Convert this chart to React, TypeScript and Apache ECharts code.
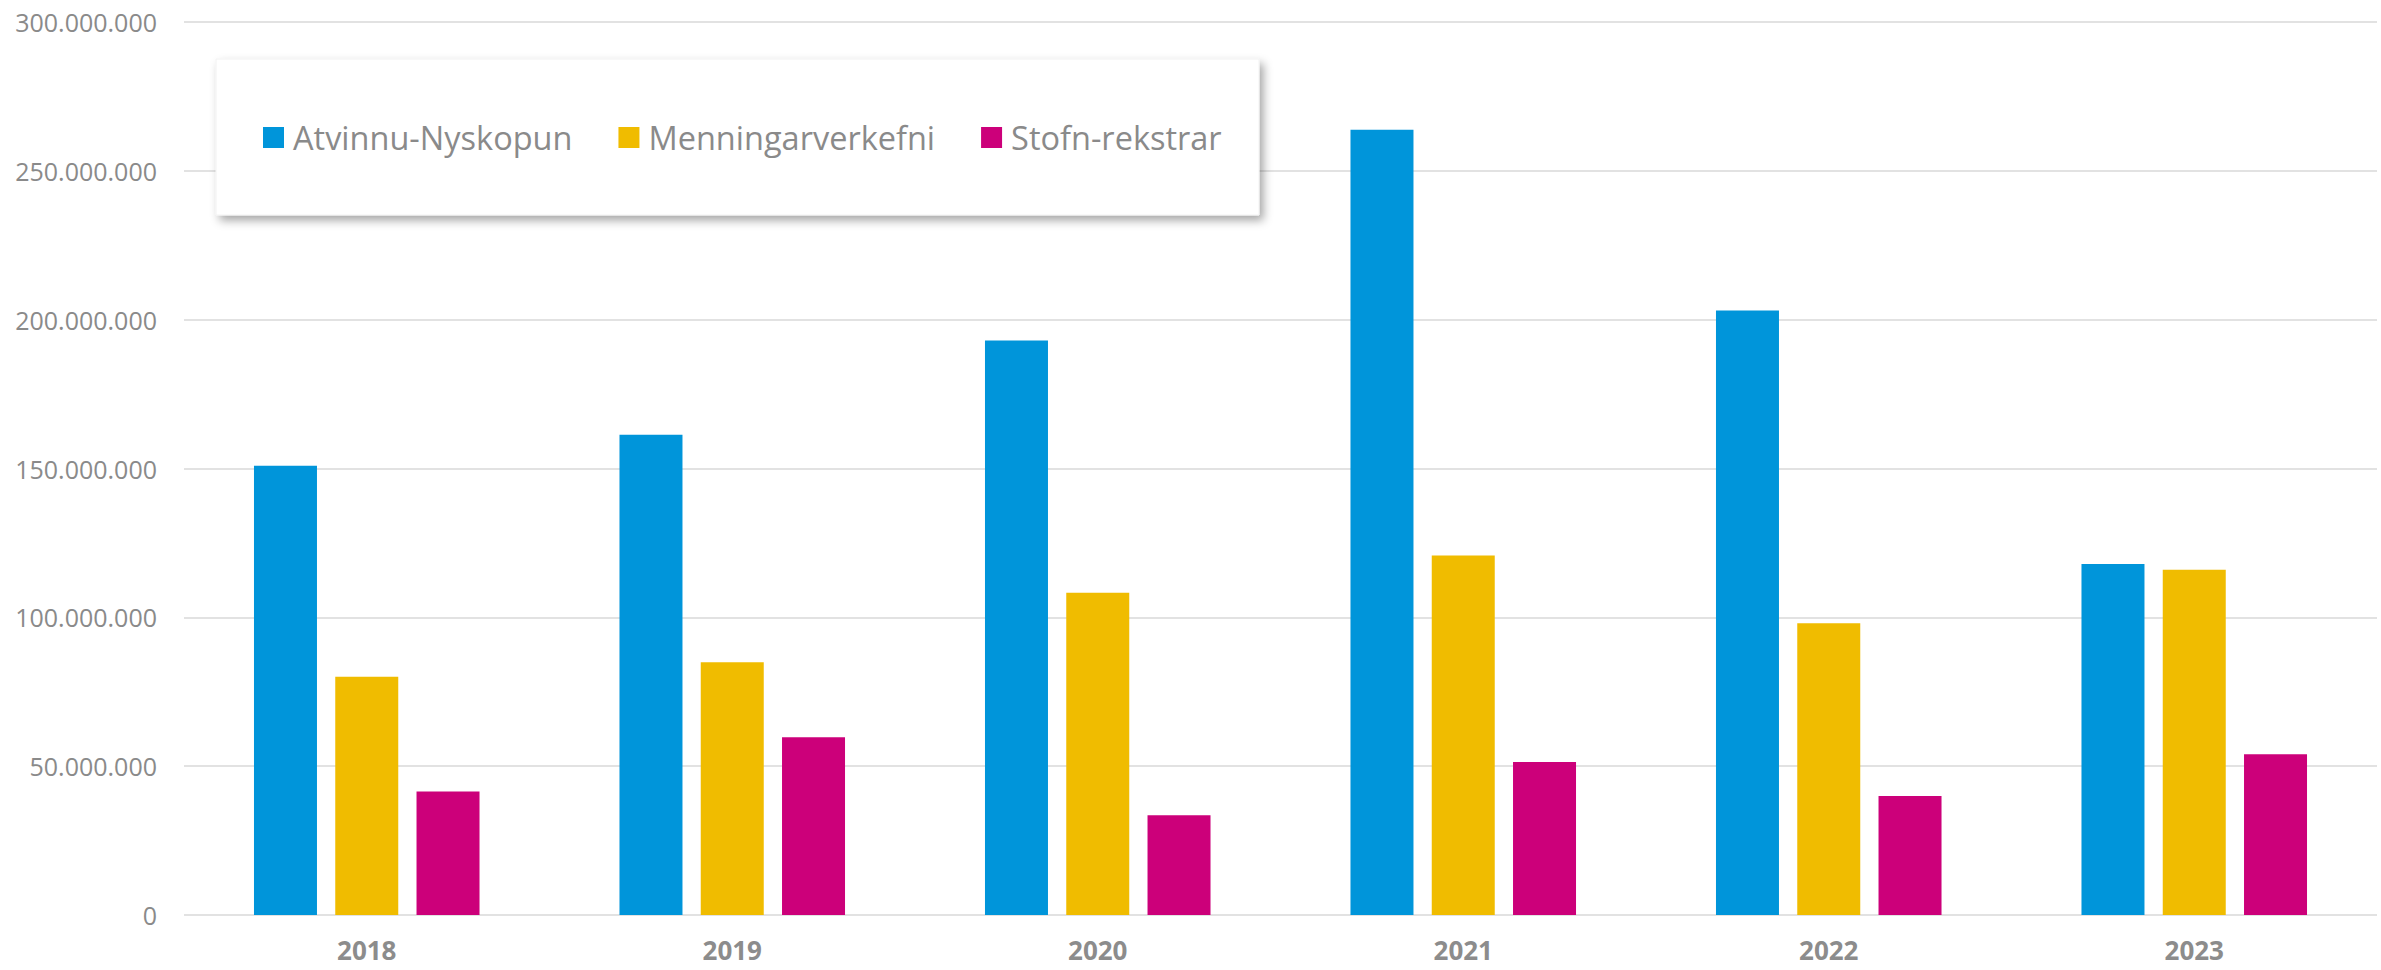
import React, { useEffect, useRef } from "react";
import * as echarts from "echarts";

const categories = ["2018", "2019", "2020", "2021", "2022", "2023"];
const seriesNames = ["Atvinnu-Nyskopun", "Menningarverkefni", "Stofn-rekstrar"];
const atvinnu = [150900000, 161300000, 193000000, 263800000, 203100000, 117900000];
const menning = [80000000, 84900000, 108300000, 120800000, 98000000, 116000000];
const stofn = [41500000, 59700000, 33500000, 51400000, 40000000, 54000000];
const colors = ["#0095DA", "#F0BC00", "#CC007A"];

const fmt = (v: number) => String(Math.round(v)).replace(/\B(?=(\d{3})+(?!\d))/g, ".");

export default function App() {
  const ref = useRef<HTMLDivElement>(null);
  useEffect(() => {
    if (!ref.current) return;
    const chart = echarts.init(ref.current, undefined, { renderer: "svg" });
    const font = "'Open Sans', 'Noto Sans', sans-serif";
    const values = [atvinnu, menning, stofn];
    chart.setOption({
      animation: false,
      backgroundColor: "#fff",
      grid: { left: 184, right: 4, top: 22, bottom: 55, containLabel: false },
      xAxis: {
        type: "category",
        data: categories,
        axisLine: { show: false },
        axisTick: { show: false },
        axisLabel: {
          margin: 25,
          color: "#8c8c8c",
          fontFamily: font,
          fontWeight: "bold",
          fontSize: 26,
          lineHeight: 20,
        },
      },
      yAxis: {
        type: "value",
        min: 0,
        max: 300000000,
        interval: 50000000,
        axisLine: { show: false },
        axisTick: { show: false },
        splitLine: { lineStyle: { color: "#e2e2e2", width: 2 } },
        axisLabel: {
          margin: 27,
          color: "#8a8a8a",
          fontFamily: font,
          fontSize: 25,
          formatter: (v: number) => fmt(v),
        },
      },
      graphic: [
        {
          type: "rect",
          z: 10,
          shape: { x: 216, y: 59, width: 1043, height: 156 },
          style: {
            fill: "#ffffff",
            stroke: "#f2f2f2",
            lineWidth: 1,
            shadowBlur: 10,
            shadowOffsetX: 4,
            shadowOffsetY: 5,
            shadowColor: "rgba(0,0,0,0.35)",
          },
        },
      ],
      legend: {
        z: 20,
        left: 263,
        top: 121,
        padding: 0,
        itemGap: 46,
        itemWidth: 21,
        itemHeight: 21,
        icon: "rect",
        data: seriesNames,
        textStyle: {
          color: "#8a8a8a",
          fontFamily: font,
          fontSize: 32.5,
          lineHeight: 32,
          padding: [0, 0, 0, 4],
        },
      },
      series: seriesNames.map((name, i) => ({
        name,
        type: "bar",
        data: values[i],
        barWidth: 63,
        barGap: "29%",
        itemStyle: { color: colors[i] },
      })),
    });
    return () => chart.dispose();
  }, []);
  return (
    <div
      ref={ref}
      style={{ position: "fixed", left: 0, top: 0, width: 2381, height: 970 }}
    />
  );
}
